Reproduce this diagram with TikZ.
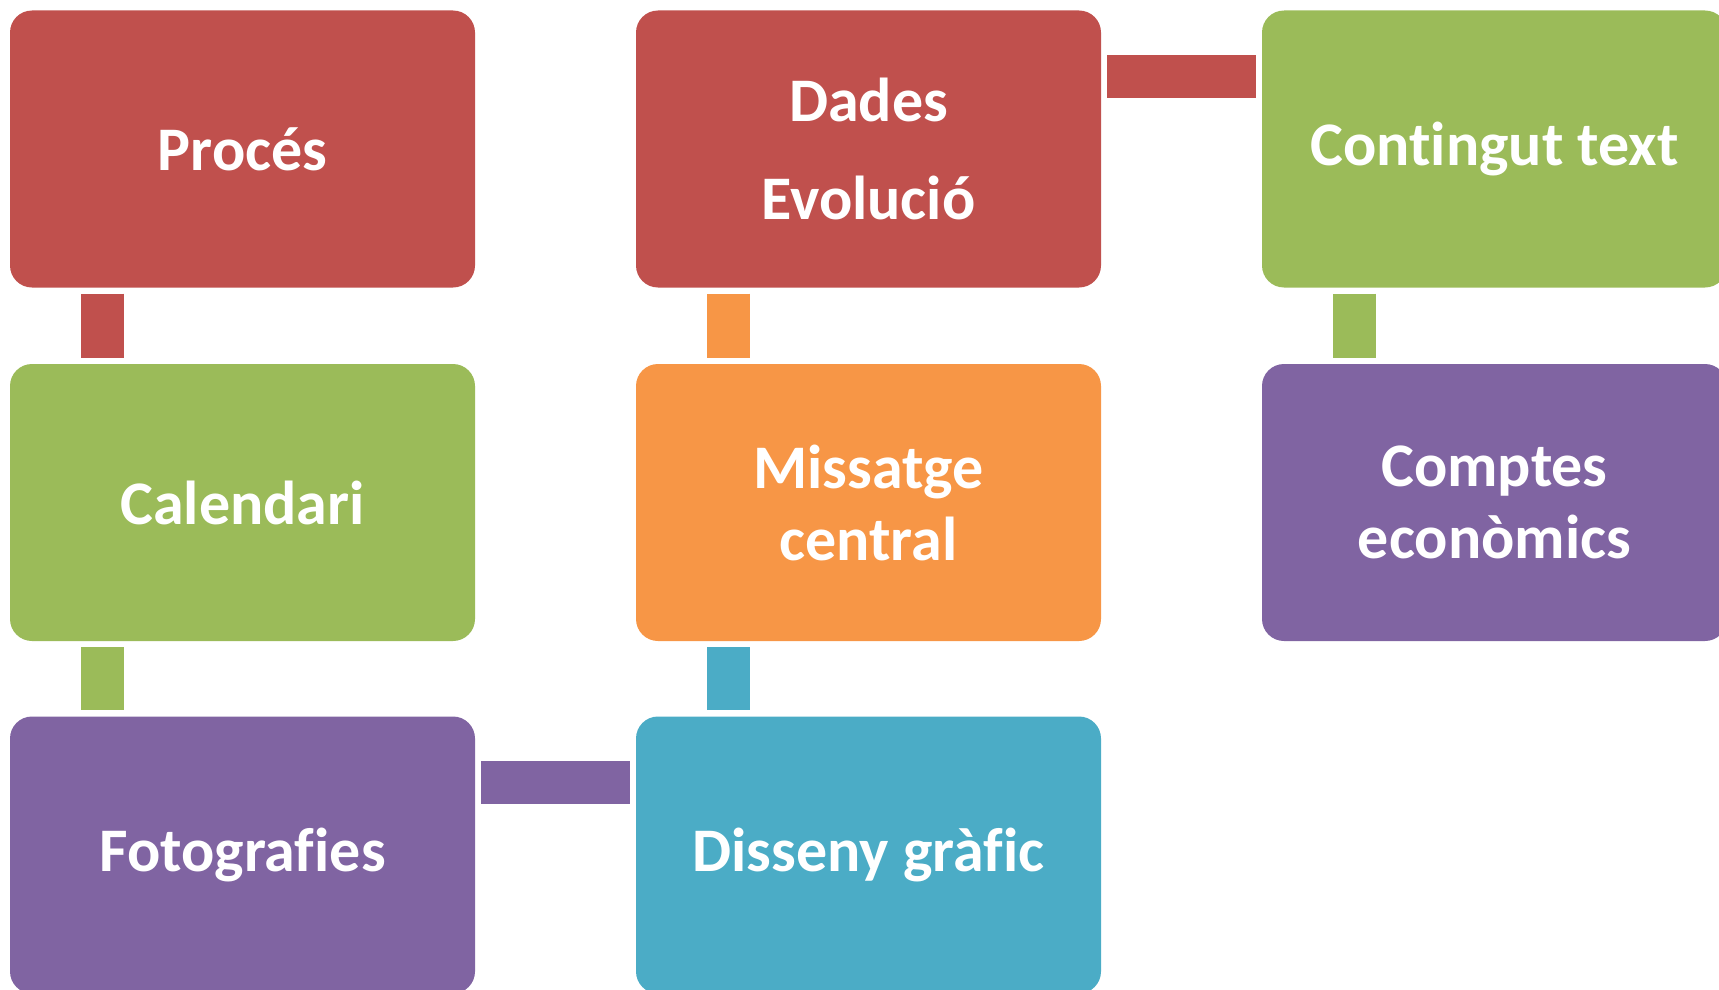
\documentclass[tikz,border=0pt]{standalone}
\usepackage{fontspec}
\setmainfont[Ligatures=NoCommon]{Carlito}
\usetikzlibrary{calc}
\definecolor{cred}{HTML}{C0504D}
\definecolor{cgreen}{HTML}{9BBB59}
\definecolor{cpurple}{HTML}{8064A2}
\definecolor{corange}{HTML}{F79646}
\definecolor{cblue}{HTML}{4BACC6}
\tikzset{
  box/.style={draw=none, rounded corners=22pt, minimum width=465pt, minimum height=277pt,
    inner sep=0pt, align=center, text=white, font=\fontsize{62}{72}\selectfont\bfseries},
  conn/.style={line width=43pt, line cap=butt}
}
\begin{document}
\begin{tikzpicture}[x=1pt,y=-1pt]
\useasboundingbox (0,0) rectangle (1719,990);
\clip (0,0) rectangle (1719,990);
\node[box, fill=cred] (proces) at (242.5,149) {Procés};
\node[box, fill=cgreen] (calendari) at (242.5,502.5) {Calendari};
\node[box, fill=cpurple] (foto) at (242.5,855) {Fotografies};
\node[box, fill=cred] (dades) at (868.5,149) {Dades\\[26pt]Evolució};
\node[box, fill=corange] (missatge) at (868.5,502.5) {Missatge\\central};
\node[box, fill=cblue] (disseny) at (868.5,855) {Disseny gràfic};
\node[box, fill=cgreen] (contingut) at (1494.5,149) {Contingut text};
\node[box, fill=cpurple] (comptes) at (1494.5,502.5) {Comptes\\econòmics};
% vertical connectors
\draw[conn, cred] ($(proces.south west)+(92.5,6)$) -- ($(calendari.north west)+(92.5,-6)$);
\draw[conn, cgreen] ($(calendari.south west)+(92.5,6)$) -- ($(foto.north west)+(92.5,-6)$);
\draw[conn, corange] ($(dades.south west)+(92.5,6)$) -- ($(missatge.north west)+(92.5,-6)$);
\draw[conn, cblue] ($(missatge.south west)+(92.5,6)$) -- ($(disseny.north west)+(92.5,-6)$);
\draw[conn, cgreen] ($(contingut.south west)+(92.5,6)$) -- ($(comptes.north west)+(92.5,-6)$);
% horizontal connectors
\draw[conn, cred] ($(dades.north east)+(6,66.5)$) -- ($(contingut.north west)+(-6,66.5)$);
\draw[conn, cpurple] ($(foto.north east)+(6,66.5)$) -- ($(disseny.north west)+(-6,66.5)$);
\end{tikzpicture}
\end{document}
